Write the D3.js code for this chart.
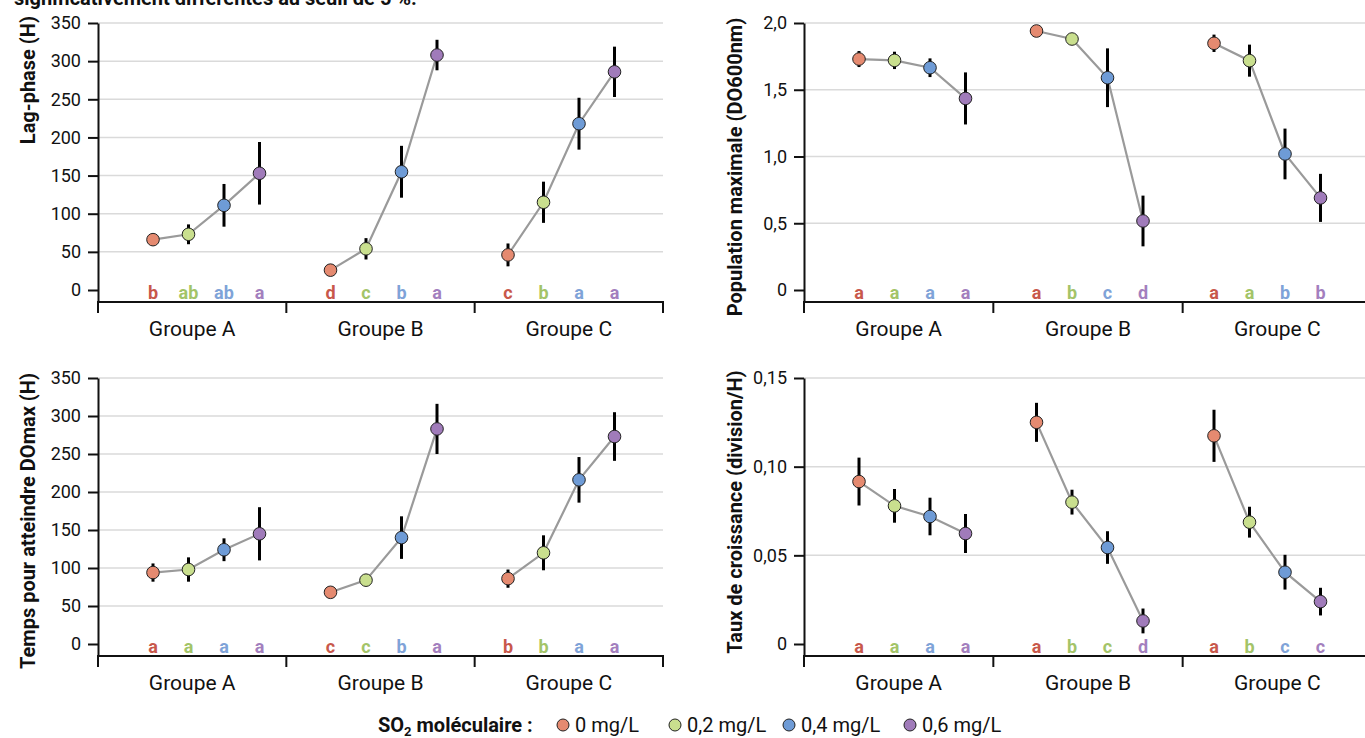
<!DOCTYPE html>
<html>
<head>
<meta charset="utf-8">
<script src="https://cdn.jsdelivr.net/npm/d3@7"></script>
<style>
  body { margin: 0; background: #fff; }
  svg { display: block; font-family: Roboto, "Noto Sans", sans-serif; }
</style>
</head>
<body>
<svg id="chart" width="1365" height="738"></svg>
<script>
// groups and SO2 doses
const groups = ["Groupe A", "Groupe B", "Groupe C"];
const doses = ["0 mg/L", "0,2 mg/L", "0,4 mg/L", "0,6 mg/L"];
const doseColors = ["#e58a70", "#c9df8e", "#6e9bd6", "#a07bba"];
const letterColors = ["#c8584b", "#a3c468", "#7fa3d8", "#a37fbe"];

// Lag-phase (H)
const lagMeans = [[66, 73, 111, 153], [26, 54, 155, 308], [46, 115, 218, 286]];
const lagErrors = [[7, 13, 28, 41], [5, 14, 34, 20], [15, 27, 34, 33]];
const lagLetters = [["b", "ab", "ab", "a"], ["d", "c", "b", "a"], ["c", "b", "a", "a"]];
const lagTicks = [0, 50, 100, 150, 200, 250, 300, 350];
const lagTickLabels = ["0", "50", "100", "150", "200", "250", "300", "350"];

// Population maximale (DO600nm)
const popMeans = [[1.73, 1.72, 1.665, 1.435], [1.94, 1.88, 1.59, 0.517], [1.848, 1.718, 1.019, 0.69]];
const popErrors = [[0.06, 0.065, 0.07, 0.195], [0.02, 0.02, 0.22, 0.19], [0.065, 0.12, 0.19, 0.18]];
const popLetters = [["a", "a", "a", "a"], ["a", "b", "c", "d"], ["a", "a", "b", "b"]];
const popTicks = [0, 0.5, 1, 1.5, 2];
const popTickLabels = ["0", "0,5", "1,0", "1,5", "2,0"];

// Temps pour atteindre DOmax (H)
const tempsMeans = [[94, 98, 124, 145], [68, 84, 140, 283], [86, 120, 216, 273]];
const tempsErrors = [[12, 16, 15, 35], [7, 5, 28, 33], [12, 23, 30, 32]];
const tempsLetters = [["a", "a", "a", "a"], ["c", "c", "b", "a"], ["b", "b", "a", "a"]];

// Taux de croissance (division/H)
const tauxMeans = [[0.0916, 0.0779, 0.0719, 0.0623], [0.125, 0.080, 0.0544, 0.013], [0.1174, 0.0687, 0.0405, 0.0239]];
const tauxErrors = [[0.0135, 0.0095, 0.0106, 0.011], [0.011, 0.007, 0.0092, 0.007], [0.0147, 0.0087, 0.0098, 0.0078]];
const tauxLetters = [["a", "a", "a", "a"], ["a", "b", "c", "d"], ["a", "b", "c", "c"]];
// the "c" of Groupe B is printed in green in the source figure
const tauxLetterColorIdx = [[0, 1, 2, 3], [0, 1, 1, 3], [0, 1, 2, 3]];
const tauxTicks = [0, 0.05, 0.1, 0.15];
const tauxTickLabels = ["0", "0,05", "0,10", "0,15"];

const svg = d3.select("#chart");

const layout = {
  leftX: 98,
  rightX: 804,
  width: 565,
  topY: 23,
  topZero: 290,
  bottomY: 378,
  bottomZero: 644,
  axisGap: 12,
};

const panels = [
  {
    title: "Lag-phase (H)", titleAnchor: "end", titleY: 16, titleX: 35,
    x0: layout.leftX, extra: 0, top: layout.topY, zero: layout.topZero,
    max: 350, ticks: lagTicks, tickLabels: lagTickLabels,
    means: lagMeans, errors: lagErrors, letters: lagLetters,
  },
  {
    title: "Population maximale (DO600nm)", titleAnchor: "middle", titleY: 167, titleX: 742,
    x0: layout.rightX, extra: 3, top: layout.topY, zero: layout.topZero,
    max: 2, ticks: popTicks, tickLabels: popTickLabels,
    means: popMeans, errors: popErrors, letters: popLetters,
  },
  {
    title: "Temps pour atteindre DOmax (H)", titleAnchor: "middle", titleY: 521, titleX: 35,
    x0: layout.leftX, extra: 0, top: layout.bottomY, zero: layout.bottomZero,
    max: 350, ticks: lagTicks, tickLabels: lagTickLabels,
    means: tempsMeans, errors: tempsErrors, letters: tempsLetters,
  },
  {
    title: "Taux de croissance (division/H)", titleAnchor: "middle", titleY: 512, titleX: 742,
    x0: layout.rightX, extra: 3, top: layout.bottomY, zero: layout.bottomZero,
    max: 0.15, ticks: tauxTicks, tickLabels: tauxTickLabels,
    means: tauxMeans, errors: tauxErrors, letters: tauxLetters, letterColorIdx: tauxLetterColorIdx,
  },
];

// cut-off caption line at the very top of the figure
svg.append("text")
  .attr("x", 14)
  .attr("y", 5)
  .attr("font-size", 20)
  .attr("font-weight", "bold")
  .attr("fill", "#111")
  .text("significativement différentes au seuil de 5 %.");

panels.forEach(drawPanel);
drawLegend();

function drawPanel(p) {
  const g = svg.append("g");
  const axisY = p.zero + layout.axisGap;
  const x1 = p.x0 + layout.width + p.extra;

  // y: extend domain a little below zero so the x axis sits under the 0 tick
  const yMin = -p.max * layout.axisGap / (p.zero - p.top);
  const y = d3.scaleLinear().domain([yMin, p.max]).range([axisY, p.top]);

  // 4 points per group, one empty slot between groups
  const x = d3.scaleLinear().domain([0, 13]).range([p.x0 + 55, p.x0 + 55 + 35.5 * 13]);
  const band = d3.scaleBand().domain(groups).range([p.x0, x1]);

  // grid
  g.append("g")
    .selectAll("line")
    .data(p.ticks.filter((t) => t > 0))
    .join("line")
    .attr("x1", p.x0)
    .attr("x2", x1 + (p.extra ? 10 : 0))
    .attr("y1", (d) => y(d))
    .attr("y2", (d) => y(d))
    .attr("stroke", "#dadada")
    .attr("stroke-width", 1.5);

  // y axis
  const yAxis = g.append("g")
    .attr("transform", `translate(${p.x0},0)`)
    .call(
      d3.axisLeft(y)
        .tickValues(p.ticks)
        .tickFormat((d, i) => p.tickLabels[i])
        .tickSize(10)
        .tickSizeOuter(0)
        .tickPadding(7)
    );
  yAxis.select(".domain").attr("stroke", "#111").attr("stroke-width", 2);
  yAxis.selectAll(".tick line").attr("stroke", "#111").attr("stroke-width", 2);
  yAxis.selectAll(".tick text")
    .attr("font-size", 18)
    .attr("font-family", "Roboto, sans-serif")
    .attr("fill", "#111");

  // x axis: baseline, boundary ticks, group labels
  const bounds = [0, 1, 2, 3].map((i) => p.x0 + i * band.step());
  g.append("line")
    .attr("x1", p.x0)
    .attr("x2", x1)
    .attr("y1", axisY)
    .attr("y2", axisY)
    .attr("stroke", "#111")
    .attr("stroke-width", 2);
  g.append("g")
    .selectAll("line")
    .data(bounds)
    .join("line")
    .attr("x1", (d) => d)
    .attr("x2", (d) => d)
    .attr("y1", axisY - 1)
    .attr("y2", axisY + 11)
    .attr("stroke", "#111")
    .attr("stroke-width", 2);
  g.append("g")
    .selectAll("text")
    .data(groups)
    .join("text")
    .attr("x", (d) => band(d) + band.bandwidth() / 2)
    .attr("y", axisY + 34)
    .attr("text-anchor", "middle")
    .attr("font-size", 21)
    .attr("fill", "#111")
    .text((d) => d);

  // axis title
  g.append("text")
    .attr("transform", `translate(${p.titleX},${p.titleY}) rotate(-90)`)
    .attr("text-anchor", p.titleAnchor)
    .attr("font-size", 20)
    .attr("font-weight", "bold")
    .attr("fill", "#111")
    .text(p.title);

  const rows = [];
  p.means.forEach((vals, gi) => {
    vals.forEach((v, j) => {
      rows.push({
        group: gi,
        dose: j,
        slot: gi * 5 + j,
        mean: v,
        err: p.errors[gi][j],
        letter: p.letters[gi][j],
        letterColor: letterColors[p.letterColorIdx ? p.letterColorIdx[gi][j] : j],
      });
    });
  });

  // connecting lines per group
  const line = d3.line().x((d) => x(d.slot)).y((d) => y(d.mean));
  g.append("g")
    .selectAll("path")
    .data(d3.groups(rows, (d) => d.group).map((e) => e[1]))
    .join("path")
    .attr("d", line)
    .attr("fill", "none")
    .attr("stroke", "#9a9a9a")
    .attr("stroke-width", 2.2);

  // error bars
  g.append("g")
    .selectAll("line")
    .data(rows)
    .join("line")
    .attr("x1", (d) => x(d.slot))
    .attr("x2", (d) => x(d.slot))
    .attr("y1", (d) => y(d.mean - d.err))
    .attr("y2", (d) => y(d.mean + d.err))
    .attr("stroke", "#000")
    .attr("stroke-width", 3);

  // points
  g.append("g")
    .selectAll("circle")
    .data(rows)
    .join("circle")
    .attr("cx", (d) => x(d.slot))
    .attr("cy", (d) => y(d.mean))
    .attr("r", 6.3)
    .attr("fill", (d) => doseColors[d.dose])
    .attr("stroke", "#222")
    .attr("stroke-width", 1);

  // significance letters
  g.append("g")
    .selectAll("text")
    .data(rows)
    .join("text")
    .attr("x", (d) => x(d.slot))
    .attr("y", axisY - 3)
    .attr("text-anchor", "middle")
    .attr("font-size", 18)
    .attr("font-weight", "bold")
    .attr("fill", (d) => d.letterColor)
    .text((d) => d.letter);
}

function drawLegend() {
  const legendX = [563, 675, 789, 910];
  const ly = 725;
  const lg = svg.append("g");

  const title = lg.append("text")
    .attr("x", 378)
    .attr("y", ly + 7)
    .attr("font-size", 20)
    .attr("font-weight", "bold")
    .attr("fill", "#111");
  title.append("tspan").text("SO");
  title.append("tspan").attr("font-size", 13).attr("dy", 4).text("2");
  title.append("tspan").attr("dy", -4).text(" moléculaire :");

  const items = lg.selectAll("g.item")
    .data(doses)
    .join("g")
    .attr("class", "item")
    .attr("transform", (d, i) => `translate(${legendX[i]},${ly})`);
  items.append("circle")
    .attr("r", 6)
    .attr("fill", (d, i) => doseColors[i])
    .attr("stroke", "#222")
    .attr("stroke-width", 1);
  items.append("text")
    .attr("x", 12)
    .attr("y", 7)
    .attr("font-size", 20)
    .attr("fill", "#111")
    .text((d) => d);
}
</script>
</body>
</html>
